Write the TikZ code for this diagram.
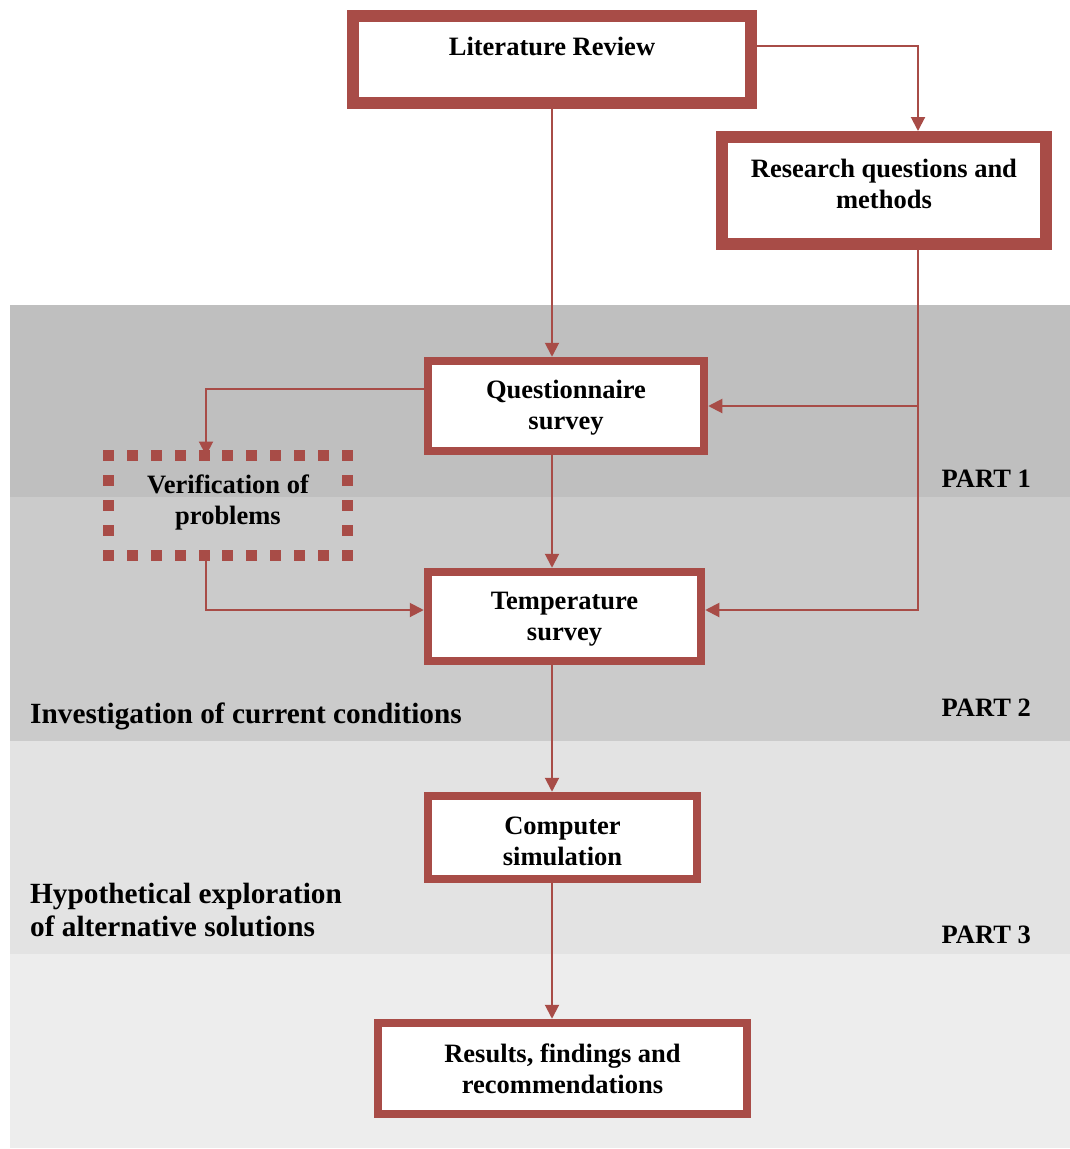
\documentclass[tikz,border=0pt]{standalone}
\usepackage{fontspec}
\setmainfont{Liberation Serif}
\newcommand*{\boxfont}{\fontsize{26.5}{31}\selectfont\bfseries}
\newcommand*{\sidefont}{\fontsize{29.3}{32.5}\selectfont\bfseries}
\definecolor{R}{RGB}{168,76,71}
\definecolor{P1}{RGB}{191,191,191}
\definecolor{P2}{RGB}{203,203,203}
\definecolor{P3}{RGB}{227,227,227}
\definecolor{P4}{RGB}{237,237,237}
\usepackage{tikz}
\usetikzlibrary{arrows.meta}
\usetikzlibrary{positioning}
\tikzstyle{box}=[draw=R, fill=white, line width=8.5pt, align=center, inner sep=0pt, font=\boxfont]
\tikzstyle{heavybox}=[box, line width=12pt]
\tikzstyle{dotbox}=[align=center, inner sep=0pt, outer sep=0pt, font=\boxfont]
\tikzstyle{dotrow}=[R, line width=11pt, line cap=rect, dash pattern=on 0.01pt off 23.88pt]
\tikzstyle{dotcol}=[R, line width=11pt, line cap=rect, dash pattern=on 0.01pt off 24.98pt]
\tikzstyle{link}=[R, line width=2pt, -{Triangle[length=14pt,width=14pt]}]
\tikzstyle{part}=[anchor=base east, inner sep=0pt, font=\boxfont]
\tikzstyle{phase}=[anchor=west, inner sep=0pt, font=\sidefont, align=left]

\begin{document}
\begin{tikzpicture}[x=1pt, y=-1pt]
    \useasboundingbox (0,0) rectangle (1070,1149);
        \fill [P1] (10,305) rectangle (1070,497);
        \fill [P2] (10,497) rectangle (1070,741);
        \fill [P3] (10,741) rectangle (1070,954);
        \fill [P4] (10,954) rectangle (1070,1148);

        \node [heavybox, minimum width=398pt, minimum height=87pt, text depth=27pt] (lit) at (552,59.5) {Literature Review};
        \node [heavybox, minimum width=324pt, minimum height=107pt, text depth=12.5pt] (res) at (884,190.5) {Research questions and\\methods};
        \node [box, minimum width=276pt, minimum height=90pt, text depth=2pt] (quest) at (566,406) {Questionnaire\\survey};
        \node [dotbox, minimum width=239pt, minimum height=100pt, text depth=12pt] (verif) at (228,505.5) {Verification of\\problems};
        \node [box, minimum width=273pt, minimum height=89pt, text depth=0pt] (temp) at (564.5,616.5) {Temperature\\survey};
        \node [box, minimum width=269pt, minimum height=83pt, text height=55.5pt] (comp) at (562.5,837.5) {Computer\\simulation};
        \node [box, minimum width=369pt, minimum height=91pt] (results) at (562.5,1068.5) {Results, findings and\\recommendations};

        \draw [dotrow] (verif.north west) -- (verif.north east);
        \draw [dotrow] (verif.south west) -- (verif.south east);
        \draw [dotcol] (verif.north west) -- (verif.south west);
        \draw [dotcol] (verif.north east) -- (verif.south east);

        \node [part] (part1) at (1031,487) {PART 1};
        \node [part] (part2) at (1031,716) {PART 2};
        \node [part] (part3) at (1031,943) {PART 3};
        \node [phase, anchor=base west] (current) at (30,723) {Investigation of current conditions};
        \node [phase] (future) at (30,910) {Hypothetical exploration\\of alternative solutions};

        \coordinate (litout) at ([yshift=13.5pt]lit.east);
        \coordinate (resin) at ([xshift=34pt]res.north);
        \coordinate (resout) at ([xshift=34pt]res.south);
        \coordinate (questout) at ([yshift=17pt]quest.west);
        \coordinate (verifin) at ([xshift=-22pt]verif.north);
        \coordinate (verifout) at ([xshift=-22pt]verif.south);
        \coordinate (tempinl) at ([yshift=6.5pt]temp.west);
        \coordinate (tempinr) at ([yshift=6.5pt]temp.east);

        \draw [link] (lit.south) -- (lit.south |- quest.north);
        \draw [link] (litout) -| (resin);
        \draw [link] (resout) |- (tempinr);
        \draw [link] (resout |- quest.east) -- (quest.east);
        \draw [link] (questout) -| (verifin);
        \draw [link] (verifout) |- (tempinl);
        \draw [link] (lit.south |- quest.south) -- (lit.south |- temp.north);
        \draw [link] (lit.south |- temp.south) -- (lit.south |- comp.north);
        \draw [link] (lit.south |- comp.south) -- (lit.south |- results.north);
    \end{tikzpicture}
\end{document}
